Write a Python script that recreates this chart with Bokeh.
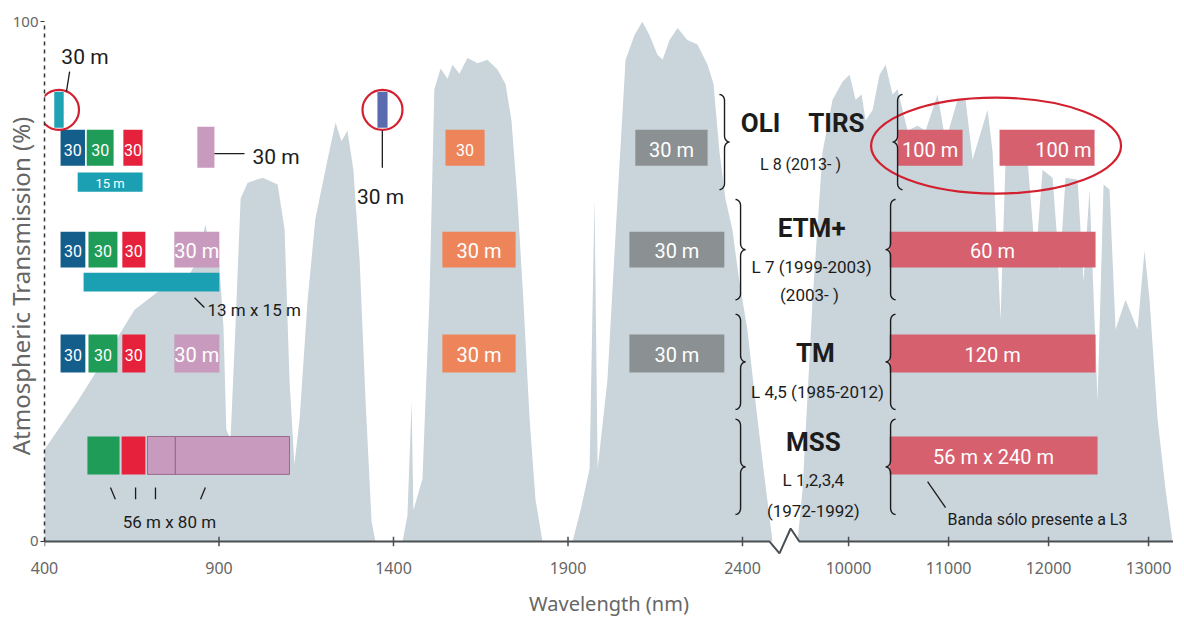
import numpy as np
from bokeh.plotting import figure
from bokeh.models import Range1d, FixedTicker, ColumnDataSource
from bokeh.core.properties import value
from bokeh.embed import file_html
from bokeh.resources import INLINE

# ---------------- data ----------------
# atmospheric transmission windows: wavelength (nm) and transmission (%)
win1_nm = [400, 495, 580, 658, 695, 724, 767, 810, 838, 861, 876, 901, 913, 921, 933, 947, 962, 982,
           1025, 1068, 1088, 1102, 1116, 1131, 1154, 1176, 1211, 1234, 1251, 1268, 1285, 1303, 1320, 1337, 1348]
win1_tr = [17.7, 27, 36, 44.6, 46.5, 48, 49.4, 50.8, 54, 61, 56, 53, 41, 21.5, 19.6, 41, 66, 69,
           70, 68.7, 60, 31, 14.8, 23.5, 46.5, 62, 73.5, 80.6, 77, 79, 71.5, 54, 27, 4, 0]
win2_nm = [1426, 1440, 1452, 1457, 1483, 1503, 1517, 1535, 1555, 1569, 1589, 1612, 1641, 1669, 1698,
           1721, 1738, 1755, 1772, 1790, 1807, 1827]
win2_tr = [0, 5, 27, 6, 12, 46.5, 87, 91, 89, 91.7, 90, 93, 92, 92.7, 90.8, 88, 81, 66, 46.5, 23.5, 8, 0]
win3_nm = [1913, 1936, 1962, 1976, 1985, 2013, 2042, 2065, 2091, 2113, 2133, 2156, 2171, 2191, 2214,
           2242, 2271, 2300, 2317, 2334, 2351, 2371, 2391, 2414, 2437, 2460, 2486]
win3_tr = [0, 6, 14, 66, 14, 31, 66, 92.7, 97.5, 100, 97.5, 93.7, 92.7, 96.5, 98.8, 96.5, 95.6, 91.7,
           88, 75, 66, 60, 50, 40.8, 27, 14, 0]
win4_nm = [9490, 9540, 9640, 9740, 9840, 9940, 10010, 10070, 10130, 10170, 10240, 10310, 10370, 10440,
           10490, 10590, 10690, 10770, 10890, 10970, 11090, 11170, 11240, 11390, 11440, 11520, 11570,
           11690, 11790, 11870, 11940, 12040, 12110, 12170, 12290, 12350, 12410, 12490, 12550, 12610,
           12670, 12770, 12890, 12960, 13010, 13090, 13170, 13240]
win4_tr = [0, 10, 46.5, 75, 85, 88.5, 89.8, 85, 86, 81, 83, 89.8, 91.7, 86, 87, 79, 80, 79, 86, 77,
           85, 85, 73.5, 83, 75, 42.7, 73.5, 75, 73.5, 54, 71.5, 70, 52, 70, 69.6, 50, 67.7, 27, 68.7,
           67.7, 40.8, 46.5, 40.8, 56, 46.5, 23.5, 10, 0]

tick_nm = [400, 900, 1400, 1900, 2400, 10000, 11000, 12000, 13000]

# Landsat bands: sensor, kind, start nm, end nm, resolution label
band_sensor = ["L8"] * 11 + ["L7"] * 8 + ["TM"] * 7 + ["MSS"] * 5
band_kind = ["coastal", "blue", "green", "red", "pan", "nir", "cirrus", "swir1", "swir2", "tir", "tir",
             "blue", "green", "red", "nir", "pan", "swir1", "swir2", "tir",
             "blue", "green", "red", "nir", "swir1", "swir2", "tir",
             "green", "red", "nir", "nir", "tir"]
band_lo = [428, 446, 521, 626, 495, 838, 1354, 1549, 2093, 10490, 11510,
           446, 526, 623, 772, 512, 1540, 2076, 10410,
           446, 526, 623, 772, 1540, 2076, 10410,
           523, 621, 695, 775, 10410]
band_hi = [455, 516, 598, 681, 681, 887, 1383, 1661, 2300, 11140, 12460,
           517, 609, 689, 901, 901, 1750, 2348, 12470,
           517, 609, 689, 901, 1750, 2348, 12470,
           615, 689, 775, 1102, 12490]
band_label = ["", "30", "30", "30", "15 m", "", "", "30", "30 m", "100 m", "100 m",
              "30", "30", "30", "30 m", "", "30 m", "30 m", "60 m",
              "30", "30", "30", "30 m", "30 m", "30 m", "120 m",
              "", "", "", "", "56 m x 240 m"]

sensor_title = ["OLI", "TIRS", "ETM+", "TM", "MSS"]
sensor_sub = ["L 8 (2013-  )", "L 7 (1999-2003)", "(2003-  )", "L 4,5 (1985-2012)", "L 1,2,3,4", "(1972-1992)"]

# ---------------- layout / style ----------------
X10K = 2704.0          # axis position of 10000 nm
THERMAL_SCALE = 0.2865  # axis units per nm in the thermal part
U_PER_PX = 1 / 0.349
PCT_PER_PX = 1 / 5.2


def xpos(nm):
    a = np.asarray(nm, dtype=float)
    return np.where(a < 5000, a, X10K + (a - 10000) * THERMAL_SCALE)


NARROW = "Roboto"
AX_FONT = "Noto Sans"
GRAY_BG = "#c9d4db"
RED_RING = "#d3202f"
INK = "#1c1c1c"

kind_color = {"coastal": "#1ea2b4", "pan": "#1aa0b2", "blue": "#145e8c", "green": "#1f9d58",
              "red": "#e6213c", "nir": "#c89abd", "cirrus": "#5b6bb0", "swir1": "#ee855a",
              "swir2": "#8b9092", "tir": "#d6606e"}
row_y = {"L8": (72.3, 79.2), "L7": (52.7, 59.6), "TM": (32.5, 39.8), "MSS": (12.9, 20.2)}
pan_y = {"L8": (67.3, 71.0), "L7": (48.1, 51.7)}
top_y = (79.6, 86.5)
nir8_y = (71.9, 79.8)

p = figure(width=1168, height=622, frame_width=1129, frame_height=539,
           x_range=Range1d(400, 3635), y_range=Range1d(-2.7, 101),
           output_backend="svg", toolbar_location=None,
           min_border_left=39, min_border_right=0, min_border_top=16, min_border_bottom=60)
p.outline_line_color = None
p.xgrid.visible = False
p.ygrid.visible = False
p.background_fill_color = "white"

# transmission curve
for nm, tr in [(win1_nm, win1_tr), (win2_nm, win2_tr), (win3_nm, win3_tr), (win4_nm, win4_tr)]:
    xs = np.concatenate([[xpos(nm[0])], xpos(nm), [xpos(nm[-1])]])
    ys = np.concatenate([[0], tr, [0]])
    p.patch(xs, ys, fill_color=GRAY_BG, line_color=None)

# bands
b_left, b_right, b_bot, b_top, b_col, b_tx, b_ty, b_align, b_size = [], [], [], [], [], [], [], [], []
for s, k, lo, hi, lab in zip(band_sensor, band_kind, band_lo, band_hi, band_label):
    if k in ("coastal", "cirrus"):
        yb, yt = top_y
    elif k == "pan":
        yb, yt = pan_y[s]
    elif k == "nir" and s == "L8":
        yb, yt = nir8_y
    else:
        yb, yt = row_y[s]
    l, r = float(xpos(lo)), float(xpos(hi))
    b_left.append(l); b_right.append(r); b_bot.append(yb); b_top.append(yt)
    b_col.append(kind_color[k])
    b_ty.append(yb + 0.45 * (yt - yb))
    if k == "tir" and lab == "100 m" and lo > 11000:
        b_tx.append(r - 3 * U_PER_PX); b_align.append("right")
    else:
        b_tx.append((l + r) / 2); b_align.append("center")
    if lab == "30":
        b_size.append("16px")
    elif lab == "15 m":
        b_size.append("13px")
    else:
        b_size.append("20px")

bsrc = ColumnDataSource(dict(left=b_left, right=b_right, bottom=b_bot, top=b_top, color=b_col,
                             tx=b_tx, ty=b_ty, label=band_label, align=b_align, size=b_size))
p.quad(left="left", right="right", bottom="bottom", top="top", fill_color="color",
       line_color=None, source=bsrc)
# outline for the MSS NIR boxes
mss_nir = [i for i, (s, k) in enumerate(zip(band_sensor, band_kind)) if s == "MSS" and k == "nir"]
p.quad(left=[b_left[i] for i in mss_nir], right=[b_right[i] for i in mss_nir],
       bottom=[b_bot[i] for i in mss_nir], top=[b_top[i] for i in mss_nir],
       fill_color=None, line_color="#9a6a8c", line_width=1)
p.text(x="tx", y="ty", text="label", text_align="align", text_baseline="middle",
       text_color="white", text_font=value(NARROW), text_font_size="size", source=bsrc)

# rings
ring_x, ring_y, ring_w, ring_h = [], [], [], []
for k in ("coastal", "cirrus"):
    i = band_kind.index(k)
    ring_x.append((b_left[i] + b_right[i]) / 2); ring_y.append((b_bot[i] + b_top[i]) / 2)
    ring_w.append(40 * U_PER_PX); ring_h.append(40 * PCT_PER_PX)
tir8 = [i for i, (s, k) in enumerate(zip(band_sensor, band_kind)) if s == "L8" and k == "tir"]
ring_x.append((b_left[tir8[0]] + b_right[tir8[-1]]) / 2)
ring_y.append((b_bot[tir8[0]] + b_top[tir8[0]]) / 2 + 0.4)
ring_w.append(250 * U_PER_PX); ring_h.append(96 * PCT_PER_PX)
p.ellipse(x=ring_x, y=ring_y, width=ring_w, height=ring_h, fill_color=None,
          line_color=RED_RING, line_width=2.2)

# braces
def brace(body_u, tip_u, y_top, y_bot, ry=1.2):
    half = (tip_u - body_u) / 2
    mid = (y_top + y_bot) / 2
    t = np.linspace(0, np.pi / 2, 10)
    tt = t[::-1]
    xs, ys = [], []
    xs += list(body_u + half * np.cos(tt)); ys += list(y_top - ry + ry * np.sin(tt))
    xs += list(tip_u - half * np.cos(t)); ys += list(mid + ry - ry * np.sin(t))
    xs += list(tip_u - half * np.cos(tt)); ys += list(mid - ry + ry * np.sin(tt))
    xs += list(body_u + half * np.cos(t)); ys += list(y_bot + ry - ry * np.sin(t))
    return xs, ys

brace_specs = [  # body nm, tip nm, top %, bottom %
    (2334, 2363, 86.0, 67.7), (2380, 2409, 65.8, 46.5), (2380, 2409, 43.7, 25.4), (2380, 2409, 23.5, 5.2),
    (10540, 10440, 86.0, 67.7), (10470, 10370, 65.8, 46.5), (10470, 10370, 43.7, 25.4), (10470, 10370, 23.5, 5.2),
]
bx, by = [], []
for body, tip, yt, yb in brace_specs:
    xs, ys = brace(float(xpos(body)), float(xpos(tip)), yt, yb)
    bx.append(xs); by.append(ys)
p.multi_line(bx, by, line_color=INK, line_width=1.4)

# leader lines (nm, %)
lead = [((472, 90.4), (463, 86.6)), ((887, 74.6), (973, 74.6)), ((1368, 79.0), (1368, 71.9)),
        ((830, 46.9), (858, 45.0)), ((589, 10.4), (603, 8.1)), ((661, 10.4), (661, 8.1)),
        ((718, 10.4), (718, 8.1)), ((861, 10.4), (847, 8.1)), ((10790, 11.5), (10970, 6.5))]
p.segment(x0=[float(xpos(a[0])) for a, b in lead], y0=[a[1] for a, b in lead],
          x1=[float(xpos(b[0])) for a, b in lead], y1=[b[1] for a, b in lead],
          line_color=INK, line_width=1.3)

# annotation texts
def txt(nm, y, s, size, align="center", bold=False):
    p.text(x=[float(xpos(nm))], y=[y], text=[s], text_align=align, text_baseline="middle",
           text_color=INK, text_font=value(NARROW), text_font_size=size,
           text_font_style="bold" if bold else "normal")

txt(516, 93.3, "30 m", "21px")
txt(996, 74.0, "30 m", "21px", align="left")
txt(1363, 66.2, "30 m", "21px")
txt(867, 44.6, "13 m x 15 m", "17px", align="left")
txt(758, 3.8, "56 m x 80 m", "17px")
txt(10990, 4.3, "Banda sólo presente a L3", "16px", align="left")
txt(2452, 80.6, sensor_title[0], "26px", bold=True)
txt(9878, 80.6, sensor_title[1], "26px", bold=True)
txt(2572, 72.5, sensor_sub[0], "16px")
txt(2598, 60.4, sensor_title[2], "26px", bold=True)
txt(2598, 52.9, sensor_sub[1], "17px")
txt(2598, 47.5, sensor_sub[2], "17px")
txt(2609, 36.3, sensor_title[3], "26px", bold=True)
txt(2615, 28.8, sensor_sub[3], "17px")
txt(2603, 19.2, sensor_title[4], "26px", bold=True)
txt(2603, 11.9, sensor_sub[4], "17px")
txt(2603, 5.8, sensor_sub[5], "17px")

# x axis line with break, plus ticks
BREAK_U = 2477.0
zig_dx = np.array([0, 29, 61, 86], dtype=float)
zig_dy = [0, -2.3, 2.5, 0]
ax_x = [400.0] + list(BREAK_U + zig_dx) + [3635.0]
ax_y = [0.0] + zig_dy + [0.0]
p.line(ax_x, ax_y, line_color="#4a4f52", line_width=2)
tick_u = [float(v) for v in xpos(tick_nm)]
p.segment(x0=tick_u, y0=[-0.9] * len(tick_u), x1=tick_u, y1=[0.9] * len(tick_u),
          line_color="#4a4f52", line_width=1.5)

xa = p.xaxis[0]
xa.ticker = FixedTicker(ticks=tick_u)
xa.major_label_overrides = {u: str(n) for u, n in zip(tick_u, tick_nm)}
xa.axis_line_color = None
xa.major_tick_line_color = None
xa.minor_tick_line_color = None
xa.major_tick_out = 0
xa.major_tick_in = 0
xa.minor_tick_out = 0
xa.major_label_standoff = 6
xa.major_label_text_font = AX_FONT
xa.major_label_text_font_size = "16px"
xa.major_label_text_color = "#666666"
xa.axis_label = "Wavelength (nm)"
xa.axis_label_text_font = AX_FONT
xa.axis_label_text_font_size = "20px"
xa.axis_label_text_font_style = "normal"
xa.axis_label_text_color = "#666666"
xa.axis_label_standoff = 13

ya = p.yaxis[0]
ya.ticker = FixedTicker(ticks=[0, 100])
ya.bounds = (0, 100)
ya.axis_line_dash = "4 4"
ya.axis_line_color = "#333333"
ya.axis_line_width = 1.5
ya.major_tick_out = 4
ya.major_tick_in = 0
ya.minor_tick_out = 0
ya.minor_tick_line_color = None
ya.major_tick_line_color = "#333333"
ya.major_label_text_font = AX_FONT
ya.major_label_text_font_size = "15px"
ya.major_label_text_color = "#666666"
ya.major_label_standoff = 2
ya.axis_label = "Atmospheric Transmission (%)"
ya.axis_label_text_font = AX_FONT
ya.axis_label_text_font_size = "24px"
ya.axis_label_text_font_style = "normal"
ya.axis_label_text_color = "#666666"
ya.axis_label_standoff = -27

open("out.html", "w").write(file_html(p, INLINE))
